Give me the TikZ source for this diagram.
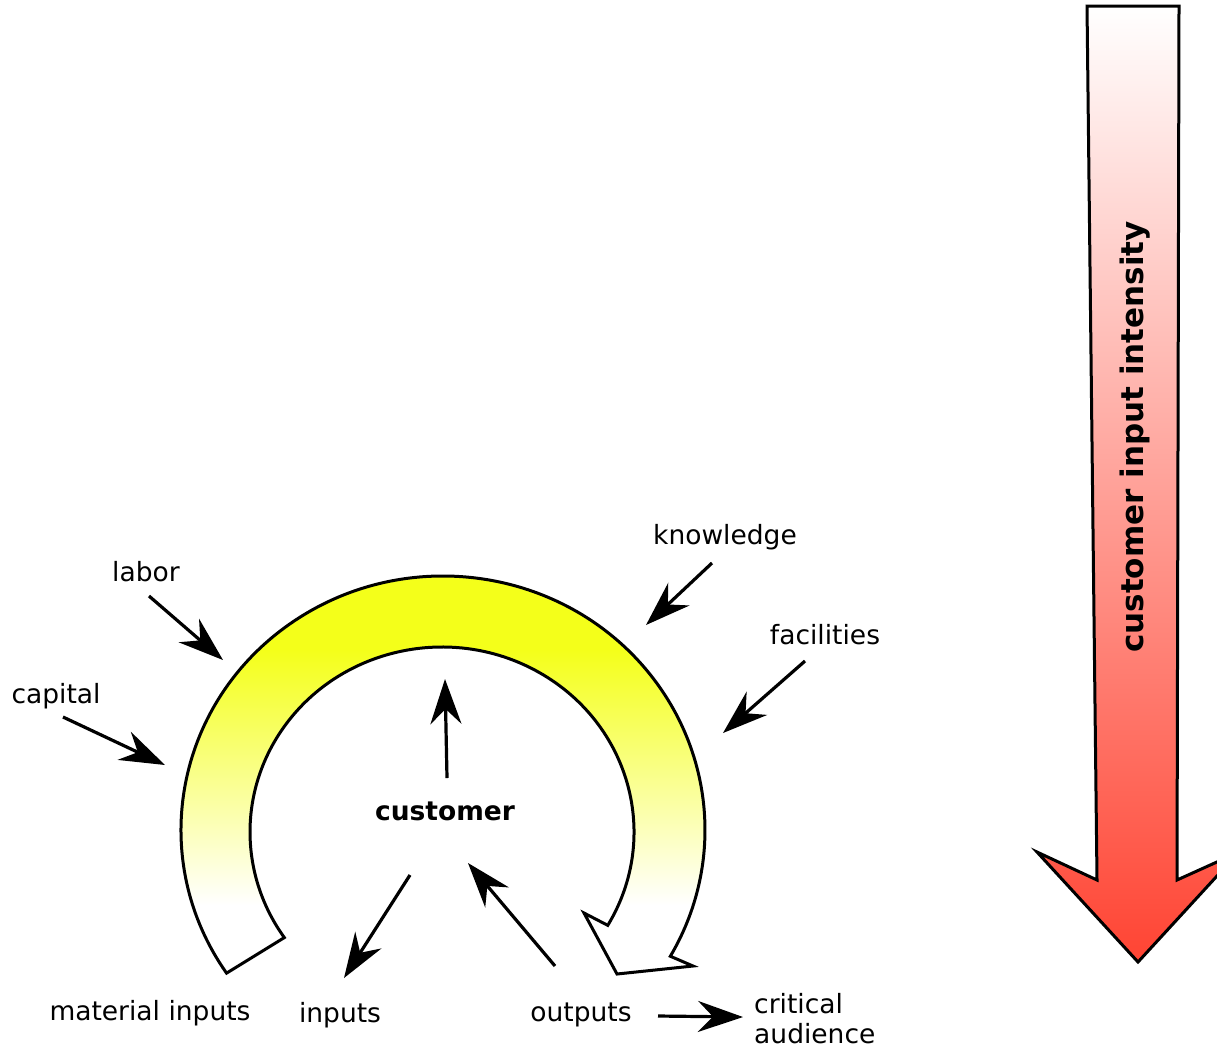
\documentclass[tikz,border=0pt]{standalone}
\usepackage{fontspec}
\setmainfont{DejaVu Sans}
\usetikzlibrary{arrows.meta,calc}

\definecolor{ringyellow}{RGB}{244,255,26}
\definecolor{arrowred}{RGB}{255,68,51}

\tikzset{
  lbl/.style={inner sep=0pt, anchor=base, font=\fontsize{26.5}{30}\selectfont},
  flow/.style={line width=3.2pt, -{Stealth[length=45pt,width=31pt,inset=15pt]}},
  outline/.style={draw=black, line width=3pt, line join=miter},
}

\begin{document}
\begin{tikzpicture}[x=1pt, y=-1pt]
  \clip (0,0) rectangle (1217,1050);
  \fill[white] (0,0) rectangle (1217,1050);

  % centres of the outer and inner edges of the curved arrow
  \coordinate (oc) at (443,830);
  \coordinate (ic) at (442,832);

  % curved arrow around the customer, fading from yellow to white
  \path[outline,
        path picture={
          \fill[ringyellow] (0,540) rectangle (1217,650);
          \shade[top color=ringyellow, bottom color=white] (0,650) rectangle (1217,905);
        }]
    ($(oc)+(145.7:262 and 254)$)
      arc[start angle=145.7, end angle=389.8, x radius=262, y radius=254]
    -- (693,966) -- (617,974) -- (584,913)
    -- ($(ic)+(30.3:192 and 185)$)
      arc[start angle=30.3, end angle=-214.8, x radius=192, y radius=185]
    -- cycle;

  % intensity arrow on the right
  \shade[outline, top color=white, bottom color=arrowred]
    (1087,6) -- (1179,6) -- (1177,880) -- (1239,852) -- (1138,962)
    -- (1037,852) -- (1097,880) -- cycle;
  \node[inner sep=0pt, rotate=90, font=\bfseries\fontsize{31}{37}\selectfont]
    (intensity) at (1135,437) {customer input intensity};

  % labels
  \node[lbl] (labor) at (146,581) {labor};
  \node[lbl] (capital) at (56,703) {capital};
  \node[lbl] (knowledge) at (725,544) {knowledge};
  \node[lbl] (facilities) at (825,644) {facilities};
  \node[lbl, font=\bfseries\fontsize{26.5}{30}\selectfont] (customer) at (445,820) {customer};
  \node[lbl] (material) at (150,1020) {material inputs};
  \node[lbl] (inputs) at (340,1022) {inputs};
  \node[lbl] (outputs) at (581,1021) {outputs};
  \node[lbl, anchor=base west] (critical) at (754,1013) {critical};
  \node[lbl, anchor=base west] (audience) at (754,1043) {audience};

  % arrow end points
  \coordinate (laborS) at (149,596);      \coordinate (laborT) at (223,660);
  \coordinate (capitalS) at (63,717);     \coordinate (capitalT) at (165,765);
  \coordinate (knowS) at (712,563);       \coordinate (knowT) at (646,625);
  \coordinate (facS) at (805,661);        \coordinate (facT) at (723,733);
  \coordinate (custS) at (447,778);       \coordinate (custT) at (445,679);
  \coordinate (inS) at (410,875);         \coordinate (inT) at (344,978);
  \coordinate (outS) at (555,966);        \coordinate (outT) at (468,863);
  \coordinate (critS) at (658,1016);      \coordinate (critT) at (743,1017);

  \draw[flow] (laborS) -- (laborT);
  \draw[flow] (capitalS) -- (capitalT);
  \draw[flow] (knowS) -- (knowT);
  \draw[flow] (facS) -- (facT);
  \draw[flow] (custS) -- (custT);
  \draw[flow] (inS) -- (inT);
  \draw[flow] (outS) -- (outT);
  \draw[flow] (critS) -- (critT);
\end{tikzpicture}
\end{document}
